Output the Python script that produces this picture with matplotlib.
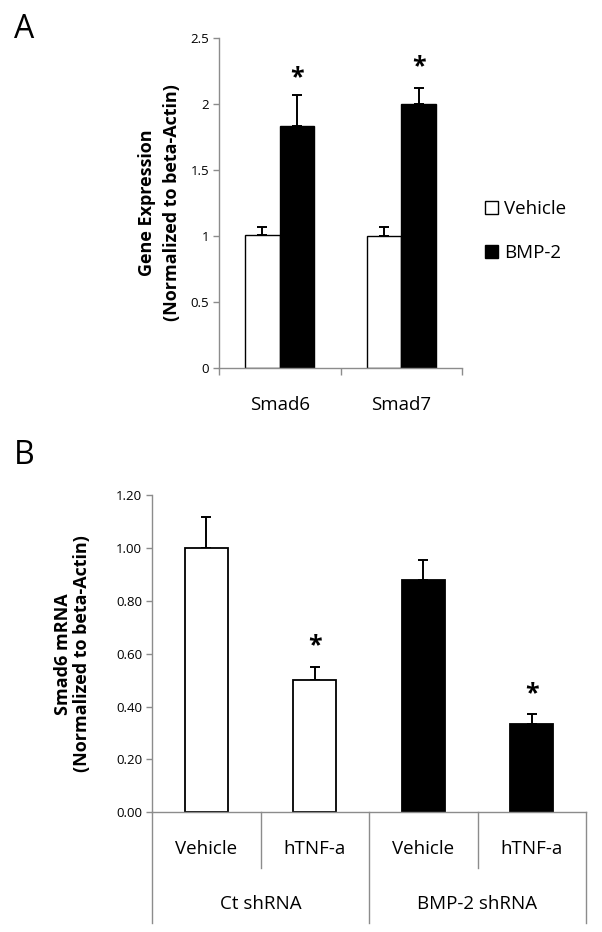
import matplotlib
matplotlib.use("Agg")
import matplotlib.pyplot as plt
from matplotlib.patches import Rectangle
import numpy as np

plt.rcParams['font.family'] = ['Open Sans', 'DejaVu Sans']

# ---- Panel A data ----
genes = ["Smad6", "Smad7"]
vehicle_vals = [1.01, 1.00]
vehicle_err = [0.055, 0.07]
bmp2_vals = [1.83, 2.00]
bmp2_err = [0.235, 0.12]
a_star = [2.2, 2.28]
a_yticks = [0, 0.5, 1, 1.5, 2, 2.5]
a_yticklabels = ["0", "0.5", "1", "1.5", "2", "2.5"]
legend_labels = ["Vehicle", "BMP-2"]

# ---- Panel B data ----
b_treat = ["Vehicle", "hTNF-a", "Vehicle", "hTNF-a"]
b_groups = ["Ct shRNA", "BMP-2 shRNA"]
b_vals = [1.00, 0.50, 0.88, 0.333]
b_err = [0.118, 0.05, 0.075, 0.04]
b_colors = ["white", "white", "black", "black"]
b_star = [None, 0.63, None, 0.45]
b_yticks = [0.0, 0.2, 0.4, 0.6, 0.8, 1.0, 1.2]

W, H = 602, 932
fig = plt.figure(figsize=(W / 100, H / 100), dpi=100)

axis_gray = "#8c8c8c"

def style_axes(ax):
    for s in ["top", "right"]:
        ax.spines[s].set_visible(False)
    for s in ["left", "bottom"]:
        ax.spines[s].set_color(axis_gray)
        ax.spines[s].set_linewidth(1.0)
    ax.tick_params(axis="y", direction="out", length=4, color=axis_gray, width=1.0, pad=3)
    ax.tick_params(axis="x", direction="out", length=5, color=axis_gray, width=1.0)

# ---------------- Panel A ----------------
axA = fig.add_axes([219 / W, 1 - 368 / H, (462 - 219) / W, (368 - 38) / H])
style_axes(axA)
x = np.arange(len(genes))
bw = 0.285
ekw = dict(elinewidth=1.4, capthick=1.4)
axA.bar(x - bw / 2, vehicle_vals, bw, color="white", edgecolor="black", linewidth=1.0, zorder=2)
axA.bar(x + bw / 2, bmp2_vals, bw, color="black", edgecolor="black", linewidth=1.0, zorder=2)
axA.errorbar(x - bw / 2, vehicle_vals, yerr=[np.zeros(len(x)), vehicle_err], fmt="none",
             ecolor="black", capsize=3.5, zorder=1, **ekw)
axA.errorbar(x + bw / 2, bmp2_vals, yerr=[np.zeros(len(x)), bmp2_err], fmt="none",
             ecolor="black", capsize=3.5, zorder=1, **ekw)
for xi, ys in zip(x, a_star):
    axA.text(xi + bw / 2, ys, "*", ha="center", va="center", fontsize=18, fontweight="bold")
axA.set_xlim(-0.5, len(genes) - 0.5)
axA.set_ylim(0, 2.5)
axA.set_yticks(a_yticks)
axA.set_yticklabels(a_yticklabels, fontsize=9.5)
axA.set_xticks(np.arange(-0.5, len(genes), 1.0))
axA.set_xticklabels([])
axA.set_xticks(x, minor=True)
axA.set_xticklabels(genes, minor=True, fontsize=13.5)
axA.tick_params(axis="x", which="minor", length=0, pad=20)
axA.set_ylabel("Gene Expression\n(Normalized to beta-Actin)", fontsize=13,
               fontweight="bold", labelpad=7, linespacing=1.5)

# legend
legA = axA.legend(handles=[Rectangle((0, 0), 1, 1, facecolor="white", edgecolor="black", linewidth=1.0),
                           Rectangle((0, 0), 1, 1, facecolor="black", edgecolor="black", linewidth=1.0)],
                  labels=legend_labels, loc="center left", bbox_to_anchor=(1.095, 0.415),
                  frameon=False, fontsize=13.5, handlelength=0.7, handleheight=0.7,
                  handletextpad=0.3, labelspacing=1.4, borderpad=0, borderaxespad=0)

fig.text(14 / W, 1 - 29 / H, "A", fontsize=23, va="center", ha="left")

# ---------------- Panel B ----------------
axB = fig.add_axes([152 / W, 1 - 812.3 / H, (586 - 152) / W, (812.3 - 495.3) / H])
style_axes(axB)
xb = np.arange(len(b_vals))
bwb = 0.4
axB.bar(xb, b_vals, bwb, color=b_colors, edgecolor="black", linewidth=1.3, zorder=2)
axB.errorbar(xb, b_vals, yerr=[np.zeros(len(xb)), b_err], fmt="none", ecolor="black",
             capsize=3.5, zorder=1, **ekw)
for xi, ys in zip(xb, b_star):
    if ys is not None:
        axB.text(xi, ys, "*", ha="center", va="center", fontsize=18, fontweight="bold")
axB.set_xlim(-0.5, len(b_vals) - 0.5)
axB.set_ylim(0, 1.2)
axB.set_yticks(b_yticks)
axB.set_yticklabels([f"{v:.2f}" for v in b_yticks], fontsize=9.5)
axB.set_xticks([])
axB.set_ylabel("Smad6 mRNA\n(Normalized to beta-Actin)", fontsize=13,
               fontweight="bold", labelpad=18, linespacing=1.1)

trans = axB.get_xaxis_transform()
inner_bottom = -0.175
outer_bottom = -0.349
for xb_line in [0.5, 2.5]:
    axB.plot([xb_line, xb_line], [0, inner_bottom], transform=trans, color=axis_gray,
             lw=1.0, clip_on=False)
for xb_line in [-0.5, 1.5, 3.5]:
    axB.plot([xb_line, xb_line], [0, outer_bottom], transform=trans, color=axis_gray,
             lw=1.0, clip_on=False)
for xi, lab in zip(xb, b_treat):
    axB.text(xi, -0.115, lab, transform=trans, ha="center", va="center", fontsize=13.5)
for gi, lab in enumerate(b_groups):
    axB.text(2 * gi + 0.5, -0.289, lab, transform=trans, ha="center", va="center", fontsize=13.5)

fig.text(14 / W, 1 - 455 / H, "B", fontsize=23, va="center", ha="left")

fig.savefig("out.png", dpi=100, facecolor="white")
